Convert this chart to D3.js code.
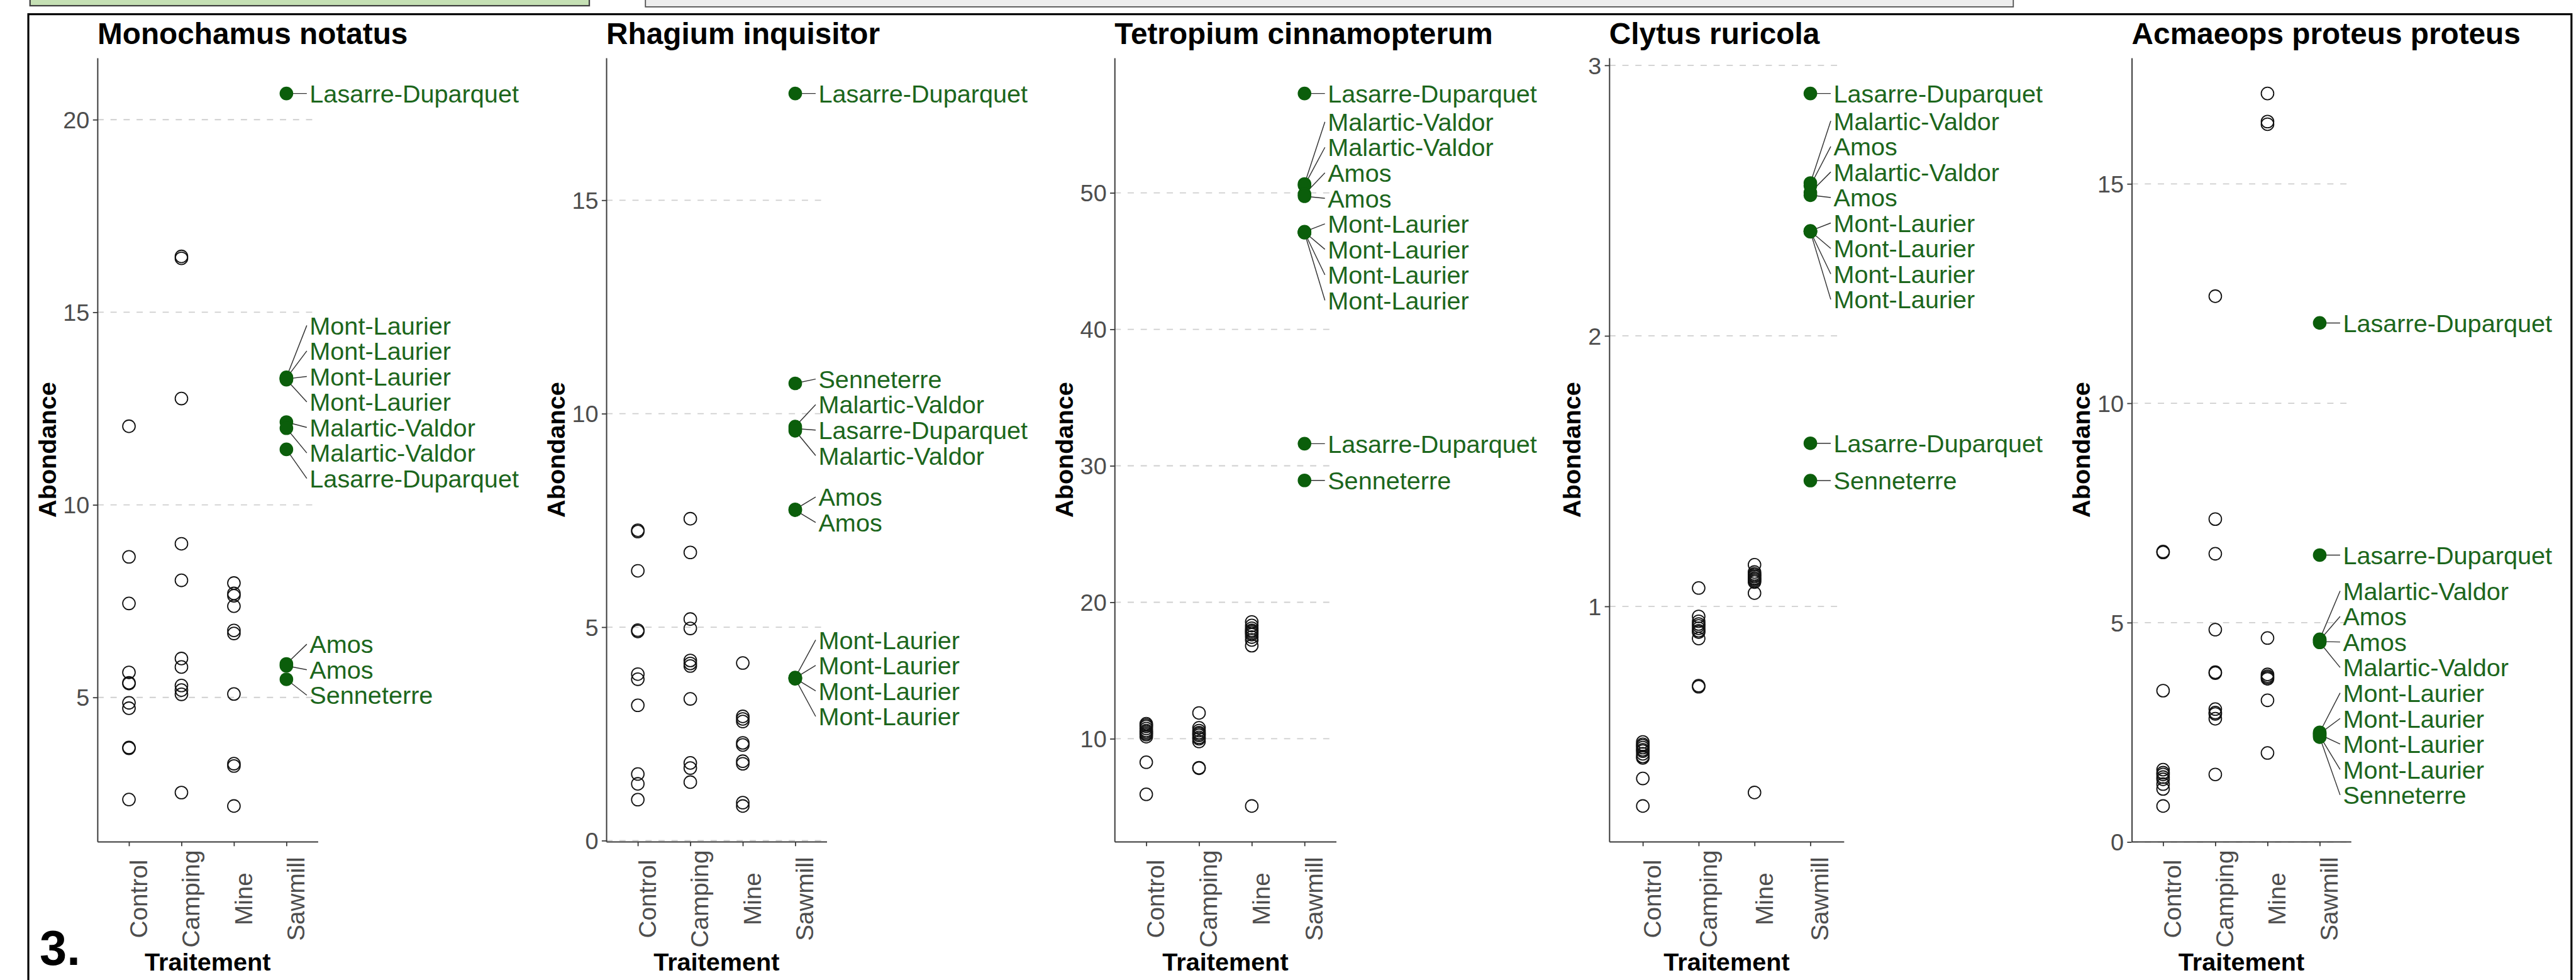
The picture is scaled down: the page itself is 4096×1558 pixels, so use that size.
<!DOCTYPE html>
<html><head><meta charset="utf-8">
<script src="https://cdn.jsdelivr.net/npm/d3@7"></script>
<style>html,body{margin:0;padding:0;background:#fff}svg{display:block}</style>
</head><body>
<script>
// ---------------- DATA ----------------
const categories = ["Control", "Camping", "Mine", "Sawmill"];
const speciesNames = ["Monochamus notatus", "Rhagium inquisitor", "Tetropium cinnamopterum", "Clytus ruricola", "Acmaeops proteus proteus"];

// Monochamus notatus
const monoControl = [12.04, 8.65, 7.44, 5.65, 5.38, 5.36, 4.86, 4.72, 3.70, 3.68, 2.35];
const monoCamping = [16.45, 16.40, 12.76, 8.99, 8.04, 6.01, 5.79, 5.31, 5.19, 5.08, 2.53];
const monoMine = [7.97, 7.70, 7.64, 7.37, 6.74, 6.66, 5.09, 3.28, 3.22, 2.18];
const monoSawSites = ["Lasarre-Duparquet", "Mont-Laurier", "Mont-Laurier", "Mont-Laurier", "Mont-Laurier", "Malartic-Valdor", "Malartic-Valdor", "Lasarre-Duparquet", "Amos", "Amos", "Senneterre"];
const monoSawValues = [20.68, 13.31, 13.29, 13.27, 13.25, 12.15, 11.99, 11.44, 5.87, 5.82, 5.47];
const monoTicks = [5, 10, 15, 20];

// Rhagium inquisitor
const rhagControl = [7.27, 7.24, 6.32, 4.93, 4.90, 3.90, 3.78, 3.17, 1.56, 1.33, 0.96];
const rhagCamping = [7.54, 6.75, 5.19, 4.97, 4.22, 4.15, 4.09, 3.32, 1.82, 1.70, 1.37];
const rhagMine = [4.16, 2.91, 2.85, 2.79, 2.29, 2.24, 1.86, 1.80, 0.89, 0.81];
const rhagSawSites = ["Lasarre-Duparquet", "Senneterre", "Malartic-Valdor", "Lasarre-Duparquet", "Malartic-Valdor", "Amos", "Amos", "Mont-Laurier", "Mont-Laurier", "Mont-Laurier", "Mont-Laurier"];
const rhagSawValues = [17.50, 10.71, 9.70, 9.65, 9.60, 7.76, 7.74, 3.82, 3.81, 3.80, 3.79];
const rhagTicks = [0, 5, 10, 15];

// Tetropium cinnamopterum
const tetrControl = [11.10, 11.00, 10.90, 10.75, 10.60, 10.50, 10.40, 10.30, 10.15, 8.28, 5.93];
const tetrCamping = [11.89, 10.80, 10.60, 10.45, 10.35, 10.25, 10.10, 10.00, 9.80, 7.88, 7.84];
const tetrMine = [18.56, 18.30, 18.10, 17.95, 17.86, 17.75, 17.63, 17.45, 17.24, 16.82, 5.07];
const tetrSawSites = ["Lasarre-Duparquet", "Malartic-Valdor", "Malartic-Valdor", "Amos", "Amos", "Mont-Laurier", "Mont-Laurier", "Mont-Laurier", "Mont-Laurier", "Lasarre-Duparquet", "Senneterre"];
const tetrSawValues = [57.28, 50.65, 50.55, 49.90, 49.75, 47.15, 47.12, 47.10, 47.08, 31.62, 28.93];
const tetrTicks = [10, 20, 30, 40, 50];

// Clytus ruricola
const clytControl = [0.499, 0.490, 0.485, 0.478, 0.470, 0.465, 0.455, 0.445, 0.440, 0.364, 0.262];
const clytCamping = [1.068, 0.963, 0.945, 0.935, 0.928, 0.919, 0.910, 0.905, 0.881, 0.707, 0.703];
const clytMine = [1.154, 1.127, 1.120, 1.115, 1.110, 1.104, 1.100, 1.095, 1.090, 1.049, 0.312];
const clytSawSites = ["Lasarre-Duparquet", "Malartic-Valdor", "Amos", "Malartic-Valdor", "Amos", "Mont-Laurier", "Mont-Laurier", "Mont-Laurier", "Mont-Laurier", "Lasarre-Duparquet", "Senneterre"];
const clytSawValues = [2.896, 2.565, 2.555, 2.530, 2.520, 2.388, 2.387, 2.386, 2.385, 1.603, 1.465];
const clytTicks = [1, 2, 3];

// Acmaeops proteus proteus
const acmaControl = [6.62, 6.60, 3.45, 1.65, 1.58, 1.54, 1.48, 1.43, 1.32, 1.21, 0.82];
const acmaCamping = [12.44, 7.36, 6.57, 4.84, 3.87, 3.85, 3.03, 2.95, 2.92, 2.81, 1.54];
const acmaMine = [17.06, 16.42, 16.36, 4.65, 3.82, 3.78, 3.75, 3.72, 3.23, 2.03];
const acmaSawSites = ["Lasarre-Duparquet", "Lasarre-Duparquet", "Malartic-Valdor", "Amos", "Amos", "Malartic-Valdor", "Mont-Laurier", "Mont-Laurier", "Mont-Laurier", "Mont-Laurier", "Senneterre"];
const acmaSawValues = [11.83, 6.54, 4.62, 4.60, 4.57, 4.55, 2.50, 2.47, 2.45, 2.42, 2.39];
const acmaTicks = [0, 5, 10, 15];

const xTitle = "Traitement";
const yTitle = "Abondance";
const figureTag = "3.";

// table built from the arrays
const species = [
  {name: speciesNames[0], open: [monoControl, monoCamping, monoMine], sites: monoSawSites, saw: monoSawValues, ticks: monoTicks},
  {name: speciesNames[1], open: [rhagControl, rhagCamping, rhagMine], sites: rhagSawSites, saw: rhagSawValues, ticks: rhagTicks},
  {name: speciesNames[2], open: [tetrControl, tetrCamping, tetrMine], sites: tetrSawSites, saw: tetrSawValues, ticks: tetrTicks},
  {name: speciesNames[3], open: [clytControl, clytCamping, clytMine], sites: clytSawSites, saw: clytSawValues, ticks: clytTicks},
  {name: speciesNames[4], open: [acmaControl, acmaCamping, acmaMine], sites: acmaSawSites, saw: acmaSawValues, ticks: acmaTicks}
];

// ---------------- LAYOUT (reference pixel space 4546 x 1729) ----------------
const W = 4546, H = 1729;
const panelLeft = [172, 1070, 1967, 2840, 3762];
const panelRight = [561, 1459, 2358, 3254, 4149];
const panelTop = 102, panelBottom = 1485;
const FONT = "'Liberation Sans', Arial, Helvetica, sans-serif";
const GREEN_PT = "#0b5e0b", GREEN_TXT = "#1c661c";
const LABEL_SIZE = 44, LABEL_STEP = 45;

const svg = d3.select("body").append("svg")
  .attr("width", 4096).attr("height", 1558)
  .attr("viewBox", `0 0 ${W} ${H}`)
  .attr("font-family", FONT);

svg.append("rect").attr("x", 0).attr("y", 0).attr("width", W).attr("height", H).attr("fill", "#fff");

// fragments of the figure above
svg.append("rect").attr("x", 53).attr("y", -6).attr("width", 987).attr("height", 16)
  .attr("fill", "#c5e0b4").attr("stroke", "#404040").attr("stroke-width", 2.5);
svg.append("rect").attr("x", 1139).attr("y", -6).attr("width", 2414).attr("height", 18)
  .attr("fill", "#ededed").attr("stroke", "#505050").attr("stroke-width", 2);

// main frame
svg.append("rect").attr("x", 50).attr("y", 25).attr("width", 4488).attr("height", H)
  .attr("fill", "none").attr("stroke", "#000").attr("stroke-width", 3.5);

function stackLabels(ps, d) {
  const blocks = [];
  ps.forEach((p, i) => {
    blocks.push({sum: p - i * d, count: 1});
    while (blocks.length > 1) {
      const b = blocks[blocks.length - 1], a = blocks[blocks.length - 2];
      if (a.sum / a.count > b.sum / b.count) { a.sum += b.sum; a.count += b.count; blocks.pop(); }
      else break;
    }
  });
  const out = []; let i = 0;
  blocks.forEach(b => { const z = b.sum / b.count; for (let k = 0; k < b.count; k++) { out.push(z + i * d); i++; } });
  return out;
}

species.forEach((sp, si) => {
  const g = svg.append("g");
  const L = panelLeft[si], R = panelRight[si];
  const x = d3.scalePoint().domain(categories).range([L, R]).padding(0.6);
  const all = sp.open.flat().concat(sp.saw);
  const [mn, mx] = d3.extent(all);
  const pad = (mx - mn) * 0.05;
  const y = d3.scaleLinear().domain([mn - pad, mx + pad]).range([panelBottom, panelTop]);

  // gridlines
  g.append("g").selectAll("line").data(sp.ticks).join("line")
    .attr("x1", L).attr("x2", R).attr("y1", d => y(d)).attr("y2", d => y(d))
    .attr("stroke", "#cfcfcf").attr("stroke-width", 2).attr("stroke-dasharray", "11,12");

  // axes
  const yAx = g.append("g").attr("transform", `translate(${L},0)`)
    .call(d3.axisLeft(y).tickValues(sp.ticks).tickFormat(d => String(d))
      .tickSize(8).tickPadding(6).tickSizeOuter(0));
  yAx.select(".domain").attr("stroke", "#3a3a3a").attr("stroke-width", 2.2);
  yAx.selectAll(".tick line").attr("stroke", "#3a3a3a").attr("stroke-width", 2);
  yAx.selectAll(".tick text").attr("font-size", 42).attr("fill", "#4d4d4d")
    .attr("font-family", FONT).attr("dy", "0.35em");
  yAx.attr("font-size", null).attr("font-family", null);

  const xAx = g.append("g").attr("transform", `translate(0,${panelBottom})`)
    .call(d3.axisBottom(x).tickSize(8).tickSizeOuter(0));
  xAx.select(".domain").attr("stroke", "#3a3a3a").attr("stroke-width", 2.2);
  xAx.selectAll(".tick line").attr("stroke", "#3a3a3a").attr("stroke-width", 2);
  xAx.selectAll(".tick text").remove();
  xAx.attr("font-size", null).attr("font-family", null);
  g.append("g").selectAll("text").data(categories).join("text")
    .attr("transform", d => `translate(${x(d) + 32},1586) rotate(-90)`)
    .attr("text-anchor", "middle").attr("font-size", 43).attr("fill", "#4d4d4d")
    .text(d => d);

  // titles
  g.append("text").attr("x", L).attr("y", 78).attr("font-size", 53).attr("font-weight", "bold")
    .attr("fill", "#000").text(sp.name);
  g.append("text").attr("x", (L + R) / 2).attr("y", 1712).attr("text-anchor", "middle")
    .attr("font-size", 44).attr("font-weight", "bold").attr("fill", "#000").text(xTitle);
  let minX = L;
  yAx.selectAll(".tick text").each(function () { const b = this.getBBox(); minX = Math.min(minX, L + b.x); });
  g.append("text").attr("transform", `translate(${minX - 13},${(panelTop + panelBottom) / 2}) rotate(-90)`)
    .attr("text-anchor", "middle").attr("font-size", 44).attr("font-weight", "bold").attr("fill", "#000")
    .text(yTitle);

  // open circles
  sp.open.forEach((vals, ci) => {
    g.append("g").selectAll("circle").data(vals).join("circle")
      .attr("cx", x(categories[ci])).attr("cy", d => y(d)).attr("r", 11)
      .attr("fill", "none").attr("stroke", "#111").attr("stroke-width", 2);
  });

  // sawmill labelled points
  const sx = x("Sawmill");
  const pts = sp.saw.map((v, i) => ({v, site: sp.sites[i], py: y(v), i}))
    .sort((a, b) => a.py - b.py || a.i - b.i);
  const ly = stackLabels(pts.map(p => p.py), LABEL_STEP);
  pts.forEach((p, k) => p.ly = ly[k]);
  const tx = sx + 41;
  g.append("g").selectAll("line").data(pts).join("line")
    .attr("x1", sx).attr("y1", d => d.py).attr("x2", tx - 5).attr("y2", d => d.ly)
    .attr("stroke", "#333").attr("stroke-width", 1.6);
  g.append("g").selectAll("circle").data(pts).join("circle")
    .attr("cx", sx).attr("cy", d => d.py).attr("r", 12).attr("fill", GREEN_PT);
  g.append("g").selectAll("text").data(pts).join("text")
    .attr("x", tx).attr("y", d => d.ly + LABEL_SIZE * 0.36)
    .attr("font-size", LABEL_SIZE).attr("fill", GREEN_TXT).text(d => d.site);
});

svg.append("text").attr("x", 70).attr("y", 1703).attr("font-size", 86).attr("font-weight", "bold")
  .attr("fill", "#000").text(figureTag);
</script>
</body></html>
